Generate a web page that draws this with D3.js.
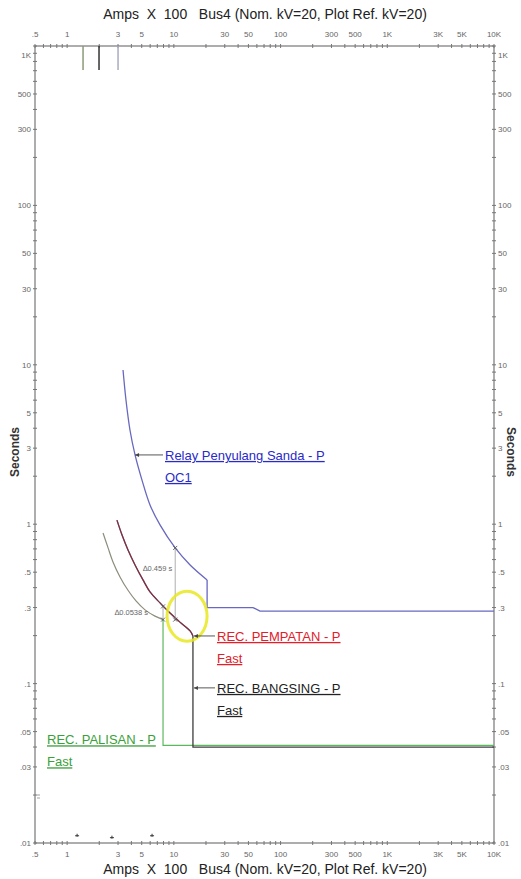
<!DOCTYPE html>
<html>
<head>
<meta charset="utf-8">
<title>TCC Bus4</title>
<style>
    html, body { margin: 0; padding: 0; background: #fff; }
    svg { display: block; font-family: 'Liberation Sans', Arial, sans-serif; }
    .tick-label { font-size: 8px; fill: #666; }
    .title { font-size: 14px; fill: #222; white-space: pre; }
    .axis-name { font-size: 12px; font-weight: bold; fill: #333; }
    .tag { font-size: 13px; text-decoration: underline; }
    .delta { font-size: 7.5px; fill: #666; }
</style>
<script src="https://cdnjs.cloudflare.com/ajax/libs/d3/7.8.5/d3.min.js"></script>
</head>
<body>
<script>
// axis ticks
var xTicks = [0.5, 1, 3, 5, 10, 30, 50, 100, 300, 500, 1000, 3000, 5000, 10000];
var xTickText = [".5", "1", "3", "5", "10", "30", "50", "100", "300", "500", "1K", "3K", "5K", "10K"];
var yTicks = [1000, 500, 300, 100, 50, 30, 10, 5, 3, 1, 0.5, 0.3, 0.1, 0.05, 0.03, 0.01];
var yTickText = ["1K", "500", "300", "100", "50", "30", "10", "5", "3", "1", ".5", ".3", ".1", ".05", ".03", ".01"];

// Relay Penyulang Sanda - P (OC1); first 10 points are the inverse curve
var relayAmps = [3.34, 3.56, 3.88, 4.33, 5.03, 5.98, 7.42, 10.3, 14.2, 20.5, 20.5, 55.2, 64.2, 10000];
var relaySec  = [9.27, 6.01, 3.90, 2.72, 1.89, 1.32, 0.99, 0.71, 0.555, 0.447, 0.30, 0.30, 0.285, 0.285];

// REC. BANGSING - P (Fast)
var bangsingAmps = [2.93, 3.27, 3.72, 4.33, 5.14, 5.98, 7.42, 9.21, 11.4, 14.2, 15.1, 15.1, 10000];
var bangsingSec  = [1.06, 0.855, 0.689, 0.555, 0.447, 0.376, 0.321, 0.277, 0.243, 0.214, 0.199, 0.040, 0.040];

// REC. PEMPATAN - P (Fast)
var pempatanAmps = [2.93, 3.27, 3.72, 4.33, 5.14, 5.98, 7.42, 9.21, 11.4, 14.2, 15.1];
var pempatanSec  = [1.06, 0.855, 0.689, 0.555, 0.447, 0.376, 0.321, 0.277, 0.243, 0.214, 0.199];

// REC. PALISAN - P (Fast)
var palisanCurveAmps = [2.17, 2.42, 2.69, 3.13, 3.72, 4.42, 5.37, 6.66, 7.92];
var palisanCurveSec  = [0.88, 0.71, 0.58, 0.467, 0.385, 0.33, 0.29, 0.265, 0.252];
var palisanStepAmps = [7.92, 7.92, 10000];
var palisanStepSec  = [0.252, 0.041, 0.041];

// pickup stubs at the top of the plot
var pickupAmps = [1.41, 1.99, 3.0];
var pickupTop = 1000;
var pickupBottom = 707;

// time differences
var deltaAmps = [10.3, 7.92];
var deltaHigh = [0.71, 0.305];
var deltaLow = [0.252, 0.252];
var deltaText = ["\u22060.459 s", "\u22060.0538 s"];

// small markers near the bottom
var markAmps = [1.24, 2.63, 6.25];
var markSec = [0.0111, 0.0108, 0.0111];

// highlighted crossing
var circleAmps = 13.3;
var circleSec = 0.265;

var W = 521, H = 879;
var plotL = 35, plotR = 494, plotT = 46, plotB = 843;

var svg = d3.select("body").append("svg")
    .attr("width", W)
    .attr("height", H);

var x = d3.scaleLog().domain([0.5, 10000]).range([plotL, plotR]);
var y = d3.scaleLog().domain([0.01, 1000]).range([plotB, plotT]);

function zip(a, b) {
    return a.map(function(v, i) { return [v, b[i]]; });
}

var line = d3.line()
    .x(function(d) { return x(d[0]); })
    .y(function(d) { return y(d[1]); });

var smooth = d3.line()
    .curve(d3.curveCatmullRom.alpha(0.5))
    .x(function(d) { return x(d[0]); })
    .y(function(d) { return y(d[1]); });

// curve part smoothed, step part straight
function series(amps, sec, nCurve, color, width, opacity) {
    var pts = zip(amps, sec);
    var g = svg.append("g")
        .attr("fill", "none")
        .attr("stroke", color)
        .attr("stroke-width", width)
        .attr("opacity", opacity || 1);
    g.append("path").attr("d", smooth(pts.slice(0, nCurve)));
    if (pts.length > nCurve) g.append("path").attr("d", line(pts.slice(nCurve - 1)));
}

// frame
svg.append("rect")
    .attr("x", plotL).attr("y", plotT)
    .attr("width", plotR - plotL).attr("height", plotB - plotT)
    .attr("fill", "none")
    .attr("stroke", "#777")
    .attr("stroke-width", 1.2);

// minor ticks
var xMinor = [];
[-1, 0, 1, 2, 3].forEach(function(e) {
    for (var k = 1; k < 10; k++) {
        var v = k * Math.pow(10, e);
        if (v >= 0.5 && v <= 10000) xMinor.push(v);
    }
});
xMinor.push(10000);
var yMinor = [];
[-2, -1, 0, 1, 2].forEach(function(e) {
    for (var k = 1; k < 10; k++) yMinor.push(k * Math.pow(10, e));
});
yMinor.push(1000);

var ticks = svg.append("g").attr("stroke", "#777").attr("stroke-width", 1);
xMinor.forEach(function(v) {
    ticks.append("line").attr("x1", x(v)).attr("x2", x(v)).attr("y1", plotT - 2).attr("y2", plotT + 2);
    ticks.append("line").attr("x1", x(v)).attr("x2", x(v)).attr("y1", plotB - 2).attr("y2", plotB + 2);
});
yMinor.forEach(function(v) {
    ticks.append("line").attr("x1", plotL - 2).attr("x2", plotL + 2).attr("y1", y(v)).attr("y2", y(v));
    ticks.append("line").attr("x1", plotR - 2).attr("x2", plotR + 2).attr("y1", y(v)).attr("y2", y(v));
});

// tick labels
xTicks.forEach(function(v, i) {
    svg.append("text").attr("class", "tick-label")
        .attr("x", x(v)).attr("y", plotT - 9)
        .attr("text-anchor", "middle")
        .text(xTickText[i]);
    svg.append("text").attr("class", "tick-label")
        .attr("x", x(v)).attr("y", plotB + 14)
        .attr("text-anchor", "middle")
        .text(xTickText[i]);
});
yTicks.forEach(function(v, i) {
    var yy = Math.max(y(v), plotT + 9);
    svg.append("text").attr("class", "tick-label")
        .attr("x", plotL - 4).attr("y", yy + 3)
        .attr("text-anchor", "end")
        .text(yTickText[i]);
    svg.append("text").attr("class", "tick-label")
        .attr("x", plotR + 4).attr("y", yy + 3)
        .attr("text-anchor", "start")
        .text(yTickText[i]);
});

// titles
var titleText = "Amps  X  100   Bus4 (Nom. kV=20, Plot Ref. kV=20)";
svg.append("text").attr("class", "title")
    .attr("x", 265).attr("y", 19).attr("text-anchor", "middle").text(titleText);
svg.append("text").attr("class", "title")
    .attr("x", 265).attr("y", 874).attr("text-anchor", "middle").text(titleText);

svg.append("text").attr("class", "axis-name")
    .attr("transform", "translate(19," + 452 + ") rotate(-90)")
    .attr("text-anchor", "middle").text("Seconds");
svg.append("text").attr("class", "axis-name")
    .attr("transform", "translate(507," + 452 + ") rotate(90)")
    .attr("text-anchor", "middle").text("Seconds");

// pickup stubs
var stubColors = ["#8c9a78", "#333", "#a8acc4"];
pickupAmps.forEach(function(v, i) {
    svg.append("line")
        .attr("x1", x(v)).attr("x2", x(v))
        .attr("y1", y(pickupTop)).attr("y2", y(pickupBottom))
        .attr("stroke", stubColors[i]).attr("stroke-width", 1.5);
});

// curves
series(palisanCurveAmps, palisanCurveSec, palisanCurveAmps.length, "#8e8c7c", 1.2);
series(palisanStepAmps, palisanStepSec, 1, "#5cb85c", 1.2);
series(bangsingAmps, bangsingSec, 11, "#3d3d3d", 1.3);
series(pempatanAmps, pempatanSec, 11, "#b0204a", 1.3, 0.55);
series(relayAmps, relaySec, 10, "#6868c0", 1.3);

// delta measurements
deltaAmps.forEach(function(v, i) {
    svg.append("line")
        .attr("x1", x(v)).attr("x2", x(v))
        .attr("y1", y(deltaHigh[i])).attr("y2", y(deltaLow[i]))
        .attr("stroke", "#999").attr("stroke-width", 0.8);
    [deltaHigh[i], deltaLow[i]].forEach(function(t) {
        svg.append("path")
            .attr("d", "M" + (x(v) - 2) + "," + (y(t) - 2) + "l4,4M" + (x(v) + 2) + "," + (y(t) - 2) + "l-4,4")
            .attr("stroke", "#555").attr("stroke-width", 0.9);
    });
});
svg.append("text").attr("class", "delta")
    .attr("x", x(deltaAmps[0]) - 3).attr("y", y(deltaHigh[0]) + 23)
    .attr("text-anchor", "end").text(deltaText[0]);
svg.append("text").attr("class", "delta")
    .attr("x", x(deltaAmps[1]) - 15).attr("y", y(deltaHigh[1]) + 9)
    .attr("text-anchor", "end").text(deltaText[1]);

// yellow highlight
svg.append("ellipse")
    .attr("cx", x(circleAmps)).attr("cy", y(circleSec))
    .attr("rx", 20).attr("ry", 25)
    .attr("fill", "none")
    .attr("stroke", "#e8e820")
    .attr("stroke-width", 3)
    .attr("opacity", 0.85);

// bottom markers
markAmps.forEach(function(v, i) {
    svg.append("path")
        .attr("d", "M" + (x(v) - 2) + "," + y(markSec[i]) + "h4M" + x(v) + "," + (y(markSec[i]) - 2) + "v3")
        .attr("stroke", "#333").attr("stroke-width", 1);
});
svg.append("path").attr("d", "M37,795h3M37,798h3").attr("stroke", "#888").attr("stroke-width", 0.8);

// labels with leaders
function tag(text1, text2, color, px, py, anchorX, anchorY) {
    if (anchorX !== null) {
        svg.append("line")
            .attr("x1", anchorX).attr("x2", px - 2)
            .attr("y1", anchorY).attr("y2", anchorY)
            .attr("stroke", "#444").attr("stroke-width", 0.9);
        svg.append("path")
            .attr("d", "M" + anchorX + "," + anchorY + "l4,-2v4z")
            .attr("fill", "#444");
    }
    svg.append("text").attr("class", "tag").attr("fill", color)
        .attr("x", px).attr("y", py).text(text1);
    svg.append("text").attr("class", "tag").attr("fill", color)
        .attr("x", px).attr("y", py + 22).text(text2);
}

tag("Relay Penyulang Sanda - P", "OC1", "#2a2ac8", 165, y(2.72) + 5, x(4.33), y(2.72));
tag("REC. PEMPATAN - P", "Fast", "#e0202a", 217, y(0.199) + 5, x(15.1) + 1, y(0.199));
tag("REC. BANGSING - P", "Fast", "#222", 217, y(0.094) + 5, x(15.1) + 1, y(0.094));
tag("REC. PALISAN - P", "Fast", "#3aa03a", 47, y(0.041) - 1, null, null);
</script>
</body>
</html>
